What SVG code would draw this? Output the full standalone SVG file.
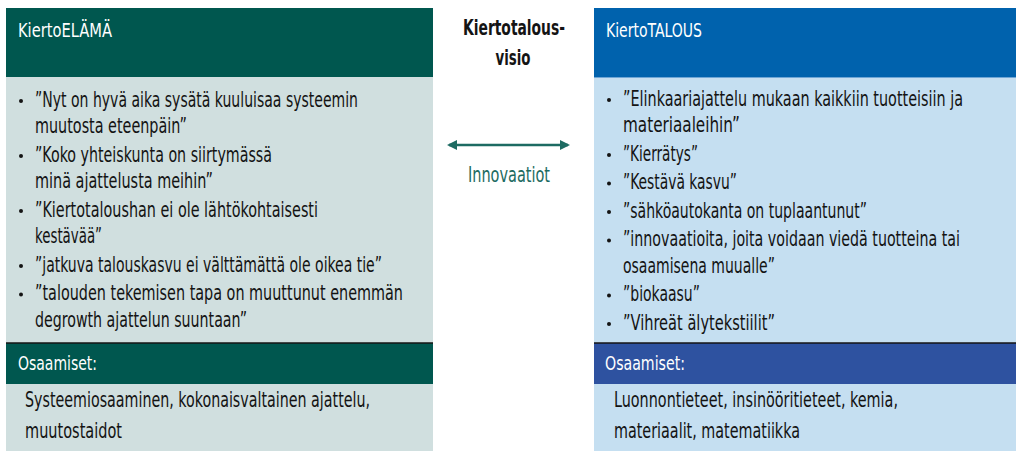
<svg xmlns="http://www.w3.org/2000/svg" width="1016" height="451" viewBox="0 0 1016 451">
<style>
text{font-family:"Liberation Sans Narrow","DejaVu Sans Condensed","Liberation Sans",sans-serif;font-stretch:condensed}
.b{font-size:21.5px;fill:#141414}
.h{font-size:20px;fill:#ffffff}
.c{font-size:21px;font-weight:bold;fill:#141414;text-anchor:middle}
.t{font-size:21px;fill:#1d6b62;text-anchor:middle}
.dot{fill:#141414}
</style>
<defs>
<marker id="ah" viewBox="0 0 10 10" refX="8" refY="5" markerWidth="4" markerHeight="4" orient="auto-start-reverse" markerUnits="strokeWidth">
<path d="M0,0 L10,5 L0,10 z" fill="#1d6b62"/>
</marker>
</defs>
<rect width="1016" height="451" fill="#ffffff"/>

<g id="kiertoelama">
<rect x="6" y="8" width="427" height="69" fill="#00574f"/>
<rect x="6" y="77" width="427" height="266" fill="#d0dfdf"/>
<text class="h" x="18" y="37" textLength="94" lengthAdjust="spacingAndGlyphs">KiertoELÄMÄ</text>
<g class="dot">
<circle cx="21" cy="101" r="2"/><circle cx="21" cy="156" r="2"/><circle cx="21" cy="211" r="2"/><circle cx="21" cy="266" r="2"/><circle cx="21" cy="294.5" r="2"/>
</g>
<g transform="translate(35,0) scale(0.7,1)">
<text class="b" x="0" y="107" textLength="461.4" lengthAdjust="spacingAndGlyphs">”Nyt on hyvä aika sysätä kuuluisaa systeemin</text>
<text class="b" x="0" y="133.5" textLength="217.1" lengthAdjust="spacingAndGlyphs">muutosta eteenpäin”</text>
<text class="b" x="0" y="162" textLength="338.6" lengthAdjust="spacingAndGlyphs">”Koko yhteiskunta on siirtymässä</text>
<text class="b" x="0" y="188.5" textLength="254.3" lengthAdjust="spacingAndGlyphs">minä ajattelusta meihin”</text>
<text class="b" x="0" y="217" textLength="404.3" lengthAdjust="spacingAndGlyphs">”Kiertotaloushan ei ole lähtökohtaisesti</text>
<text class="b" x="0" y="243.5" textLength="95.7" lengthAdjust="spacingAndGlyphs">kestävää”</text>
<text class="b" x="0" y="272" textLength="495.7" lengthAdjust="spacingAndGlyphs">”jatkuva talouskasvu ei välttämättä ole oikea tie”</text>
<text class="b" x="0" y="300.5" textLength="525.7" lengthAdjust="spacingAndGlyphs">”talouden tekemisen tapa on muuttunut enemmän</text>
<text class="b" x="0" y="327" textLength="302.9" lengthAdjust="spacingAndGlyphs">degrowth ajattelun suuntaan”</text>
</g>
</g>

<g id="osaamiset-left">
<rect x="6" y="343" width="427" height="41" fill="#00574f"/>
<line x1="6" y1="343" x2="433" y2="343" stroke="#141414" stroke-width="1.5"/>
<rect x="6" y="384" width="427" height="67" fill="#d0dfdf"/>
<text class="h" x="18" y="370" textLength="79" lengthAdjust="spacingAndGlyphs">Osaamiset:</text>
<g transform="translate(25,0) scale(0.7,1)">
<text class="b" x="0" y="407" textLength="492.9" lengthAdjust="spacingAndGlyphs">Systeemiosaaminen, kokonaisvaltainen ajattelu,</text>
<text class="b" x="0" y="438" textLength="138.6" lengthAdjust="spacingAndGlyphs">muutostaidot</text>
</g>
</g>

<g id="kiertotalous">
<rect x="594" y="8" width="422" height="69" fill="#0062ad"/>
<rect x="594" y="77" width="422" height="266" fill="#c5dff1"/>
<line x1="594" y1="77.5" x2="1016" y2="77.5" stroke="#6fa6d6" stroke-width="1"/>
<text class="h" x="606" y="37" textLength="96" lengthAdjust="spacingAndGlyphs">KiertoTALOUS</text>
<g class="dot">
<circle cx="609" cy="100" r="2"/><circle cx="609" cy="155" r="2"/><circle cx="609" cy="183.5" r="2"/><circle cx="609" cy="212" r="2"/><circle cx="609" cy="240.5" r="2"/><circle cx="609" cy="295.5" r="2"/><circle cx="609" cy="324" r="2"/>
</g>
<g transform="translate(623,0) scale(0.7,1)">
<text class="b" x="0" y="106" textLength="485.7" lengthAdjust="spacingAndGlyphs">”Elinkaariajattelu mukaan kaikkiin tuotteisiin ja</text>
<text class="b" x="0" y="132.5" textLength="167.1" lengthAdjust="spacingAndGlyphs">materiaaleihin”</text>
<text class="b" x="0" y="161" textLength="107.1" lengthAdjust="spacingAndGlyphs">”Kierrätys”</text>
<text class="b" x="0" y="189.5" textLength="162.9" lengthAdjust="spacingAndGlyphs">”Kestävä kasvu”</text>
<text class="b" x="0" y="218" textLength="348.6" lengthAdjust="spacingAndGlyphs">”sähköautokanta on tuplaantunut”</text>
<text class="b" x="0" y="246.5" textLength="481.4" lengthAdjust="spacingAndGlyphs">”innovaatioita, joita voidaan viedä tuotteina tai</text>
<text class="b" x="0" y="273" textLength="217.1" lengthAdjust="spacingAndGlyphs">osaamisena muualle”</text>
<text class="b" x="0" y="301.5" textLength="110" lengthAdjust="spacingAndGlyphs">”biokaasu”</text>
<text class="b" x="0" y="330" textLength="217.1" lengthAdjust="spacingAndGlyphs">”Vihreät älytekstiilit”</text>
</g>
</g>

<g id="osaamiset-right">
<rect x="594" y="343" width="422" height="41" fill="#2e52a0"/>
<line x1="594" y1="343" x2="1016" y2="343" stroke="#141414" stroke-width="1.5"/>
<rect x="594" y="384" width="422" height="67" fill="#c5dff1"/>
<text class="h" x="605" y="370" textLength="80" lengthAdjust="spacingAndGlyphs">Osaamiset:</text>
<g transform="translate(614,0) scale(0.7,1)">
<text class="b" x="0" y="407" textLength="405.7" lengthAdjust="spacingAndGlyphs">Luonnontieteet, insinööritieteet, kemia,</text>
<text class="b" x="0" y="438" textLength="265.7" lengthAdjust="spacingAndGlyphs">materiaalit, matematiikka</text>
</g>
</g>

<g id="vision">
<text class="c" x="514" y="35" textLength="102" lengthAdjust="spacingAndGlyphs">Kiertotalous-</text>
<text class="c" x="513" y="65" textLength="35" lengthAdjust="spacingAndGlyphs">visio</text>
</g>

<g id="connectors">
<line x1="449" y1="145" x2="568" y2="145" stroke="#1d6b62" stroke-width="2.5" marker-start="url(#ah)" marker-end="url(#ah)"/>
<text class="t" x="509" y="182" textLength="82" lengthAdjust="spacingAndGlyphs">Innovaatiot</text>
</g>
</svg>
